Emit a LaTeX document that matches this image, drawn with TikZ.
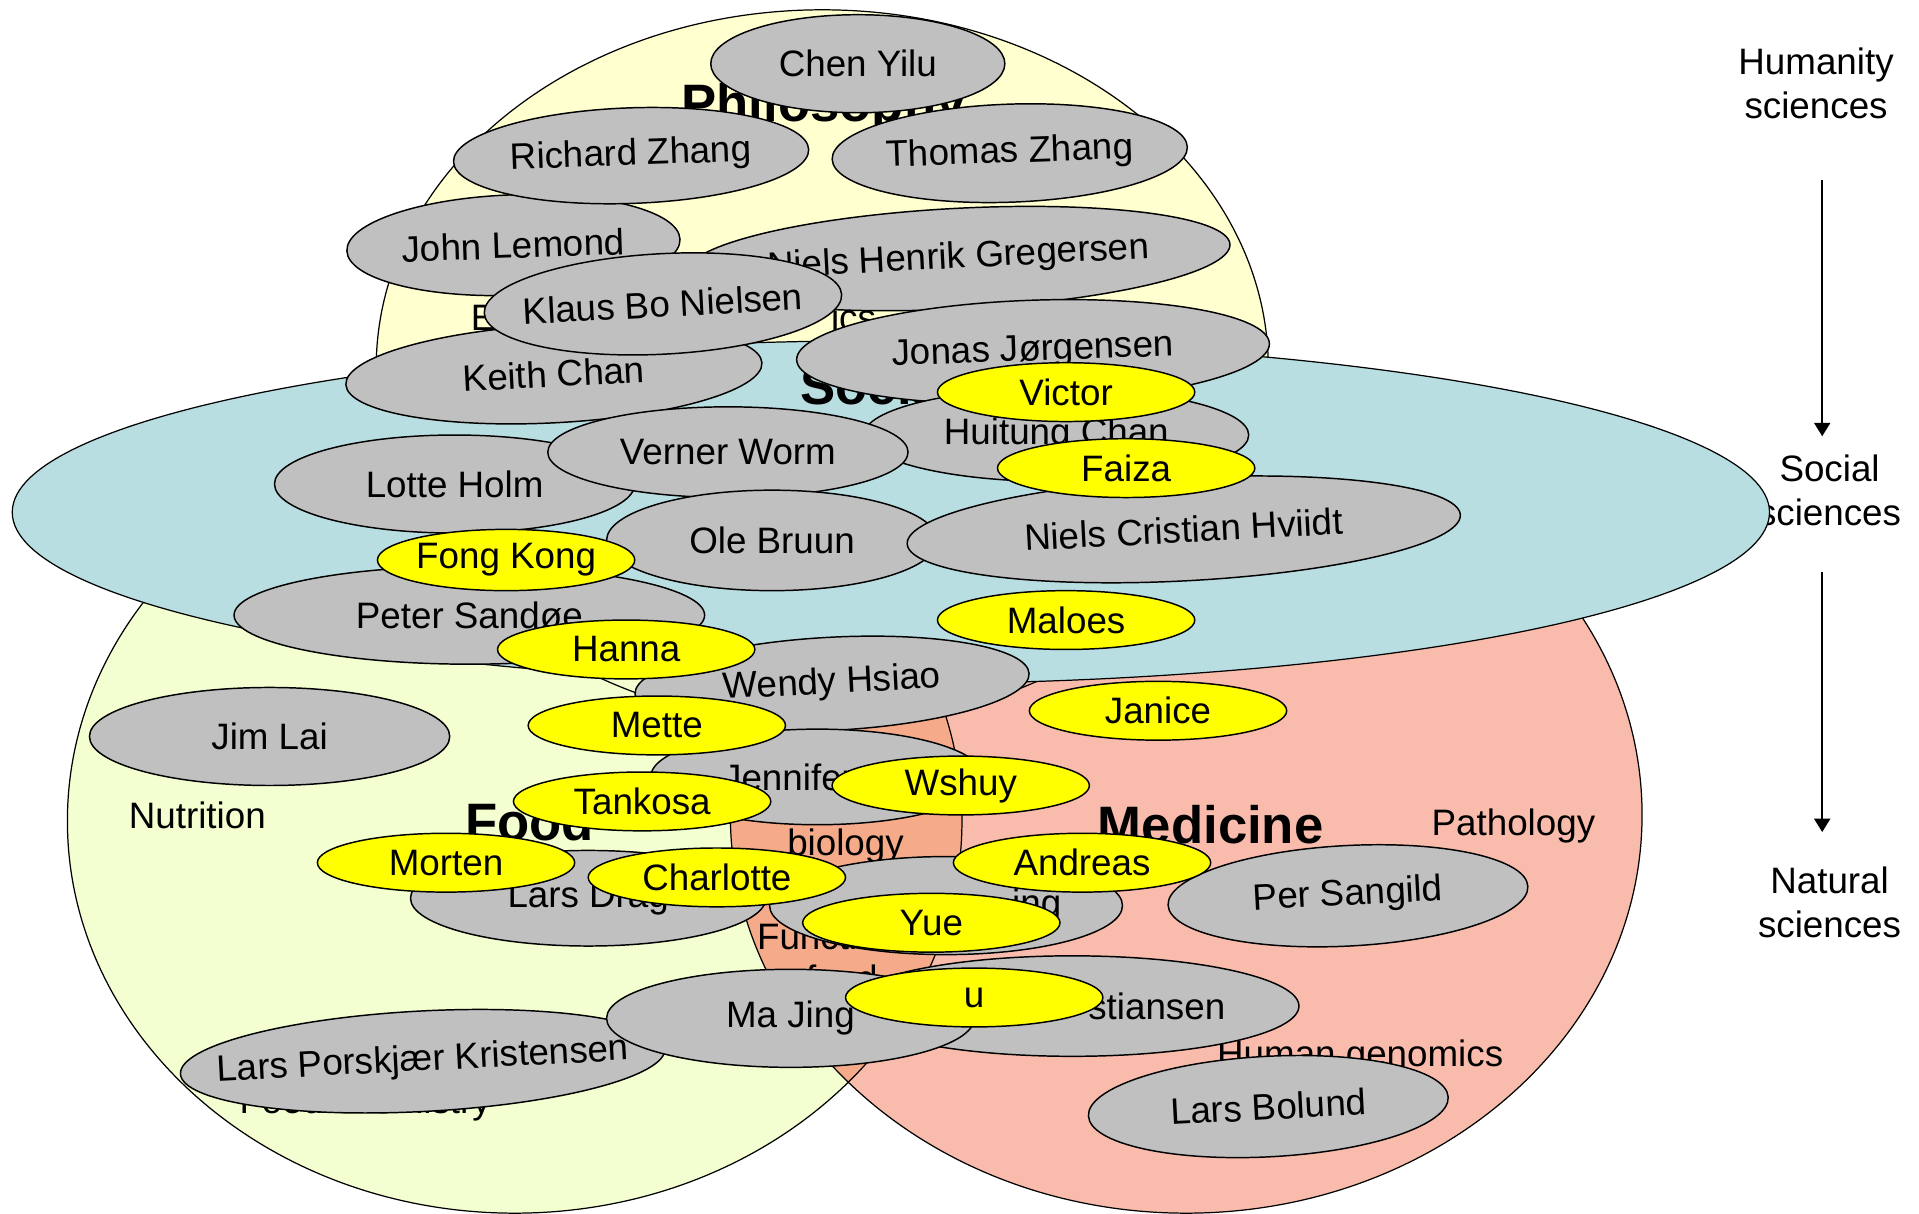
\documentclass[tikz,border=0pt]{standalone}
\usepackage{fontspec}
\setmainfont{Liberation Sans}
\usetikzlibrary{shapes.geometric,arrows.meta}
\definecolor{philfill}{RGB}{255,255,208}
\definecolor{socfill}{RGB}{184,222,226}
\definecolor{foodfill}{RGB}{243,255,208}
\definecolor{medfill}{RGB}{249,188,172}
\definecolor{lensfill}{RGB}{245,170,138}
\definecolor{namegray}{RGB}{192,192,192}
\definecolor{guestyellow}{RGB}{255,255,0}
\begin{document}
\begin{tikzpicture}[x=1pt,y=-1pt,
  region/.style={draw=black, line width=1pt},
  person/.style={ellipse, draw=black, line width=1.2pt, fill=namegray, inner sep=0pt,
    font=\fontsize{30}{36}\selectfont,
    execute at begin node={\hbox to 0pt\bgroup\hss},
    execute at end node={\hss\egroup}},
  guest/.style={person, fill=guestyellow, minimum width=210pt, minimum height=48pt},
  area/.style={font=\fontsize{30}{36}\selectfont, inner sep=0pt},
  field/.style={font=\bfseries\fontsize{43}{50}\selectfont, inner sep=0pt},
  side/.style={font=\fontsize{30}{36}\selectfont, align=center, inner sep=0pt, anchor=north},
  flow/.style={line width=2pt, -{Triangle[width=13pt,length=11pt]}}
]
\fill[white] (0,0) rectangle (1566,990);
\useasboundingbox (0,0) rectangle (1566,990);

% ---- large regions ----
\fill[philfill] (671,300) ellipse [x radius=364, y radius=292];
\fill[foodfill] (420,670) ellipse [x radius=365, y radius=320];
\fill[medfill] (968,665) ellipse [x radius=372, y radius=325];
\begin{scope}
  \clip (420,670) ellipse [x radius=365, y radius=320];
  \fill[lensfill] (968,665) ellipse [x radius=372, y radius=325];
\end{scope}
\draw[region] (671,300) ellipse [x radius=364, y radius=292];
\draw[region] (420,670) ellipse [x radius=365, y radius=320];
\draw[region] (968,665) ellipse [x radius=372, y radius=325];

% ---- right side scale ----
\node[side] (hum) at (1482,39) {Humanity\\sciences};
\node[side] (soc) at (1493,371) {Social\\sciences};
\node[side] (nat) at (1493,707) {Natural\\sciences};
\coordinate (a1s) at (1487,147);
\coordinate (a1e) at (1487,356);
\coordinate (a2s) at (1487,467);
\coordinate (a2e) at (1487,679);
\draw[flow] (a1s) -- (a1e);
\draw[flow] (a2s) -- (a2e);

% ---- social sciences ellipse ----
\draw[region, fill=socfill] (727,418) ellipse [x radius=717, y radius=140];

% ---- region labels ----
\node[field, anchor=base] (philo) at (672,99) {Philosophy};
\node[field, anchor=base west] (social) at (653,330) {Social};
\node[area, anchor=base west] (ephil) at (384,270) {E};
\node[area, anchor=base east] (ics) at (715,270) {ics};
\node[field, anchor=base] (food) at (432,686) {Food};
\node[field, anchor=base] (med) at (988,688) {Medicine};
\node[area, anchor=base] (nutri) at (161,676) {Nutrition};
\node[area, anchor=base] (patho) at (1235,682) {Pathology};
\node[area, anchor=base] (bio) at (690,698) {biology};
\node[area, anchor=north, align=center, font=\fontsize{30}{34}\selectfont] (func) at (687,753) {Functional\\food};
\node[area, anchor=base] (fchem) at (298,909) {Food chemistry};
\node[area, anchor=base] (hgen) at (1110,870) {Human genomics};

% ---- researchers ----
\node[person, minimum width=240pt, minimum height=80pt] (chen) at (700,52) {Chen Yilu};
\node[person, minimum width=272pt, minimum height=82pt, rotate=2] (john) at (419,200) {John Lemond};
\node[person, minimum width=290pt, minimum height=78pt, rotate=2] (richard) at (515,127) {Richard Zhang};
\node[person, minimum width=290pt, minimum height=80pt, rotate=2] (thomas) at (824,125) {Thomas Zhang};
\node[person, minimum width=444pt, minimum height=82pt, rotate=3] (nhg) at (782,211) {Niels Henrik Gregersen};
\node[person, minimum width=340pt, minimum height=80pt, rotate=3] (keith) at (452,305) {Keith Chan};
\node[person, minimum width=292pt, minimum height=82pt, rotate=3] (klaus) at (541,248) {Klaus Bo Nielsen};
\node[person, minimum width=386pt, minimum height=84pt, rotate=2] (jonas) at (843,287) {Jonas Jørgensen};
\node[person, minimum width=314pt, minimum height=76pt] (huitung) at (862,355) {Huitung Chan};
\node[person, minimum width=294pt, minimum height=80pt] (lotte) at (371,395) {Lotte Holm};
\node[person, minimum width=294pt, minimum height=74pt] (verner) at (594,369) {Verner Worm};
\node[person, minimum width=270pt, minimum height=82pt] (ole) at (630,441) {Ole Bruun};
\node[person, minimum width=452pt, minimum height=84pt, rotate=3] (nch) at (966,432) {Niels Cristian Hviidt};
\node[person, minimum width=384pt, minimum height=80pt] (peter) at (383,502) {Peter Sandøe};
\node[person, minimum width=322pt, minimum height=76pt, rotate=3] (wendy) at (679,558) {Wendy Hsiao};
\node[person, minimum width=294pt, minimum height=80pt] (jim) at (220,601) {Jim Lai};
\node[person, minimum width=272pt, minimum height=78pt] (jennifer) at (667,634) {Jennifer\kern47pt};
\node[person, minimum width=290pt, minimum height=78pt] (dragsted) at (480,733) {Lars Drag};
\node[person, minimum width=288pt, minimum height=80pt] (xing) at (772,739) {\kern148pt ing};
\node[person, minimum width=294pt, minimum height=82pt, rotate=3] (per) at (1100,731) {Per Sangild};
\node[person, minimum width=370pt, minimum height=82pt] (stiansen) at (875,821) {\kern138pt stiansen};
\node[person, minimum width=396pt, minimum height=82pt, rotate=3] (lpk) at (345,866) {Lars Porskjær Kristensen};
\node[person, minimum width=300pt, minimum height=80pt] (majing) at (645,831) {Ma Jing};
\node[person, minimum width=294pt, minimum height=82pt, rotate=3] (bolund) at (1035,903) {Lars Bolund};

% ---- guests (yellow) ----
\node[guest] (victor) at (870,320) {Victor};
\node[guest] (faiza) at (919,382) {Faiza};
\node[guest, minimum height=50pt] (fong) at (413,457) {Fong Kong};
\node[guest] (hanna) at (511,530) {Hanna};
\node[guest] (maloes) at (870,506) {Maloes};
\node[guest] (janice) at (945,580) {Janice};
\node[guest] (mette) at (536,592) {Mette};
\node[guest] (tankosa) at (524,654) {Tankosa};
\node[guest] (wshuy) at (784,641) {Wshuy};
\node[guest] (morten) at (364,704) {Morten};
\node[guest] (charlotte) at (585,716) {Charlotte};
\node[guest] (andreas) at (883,704) {Andreas};
\node[guest] (yue) at (760,753) {Yue};
\node[guest] (u) at (795,814) {u};
\end{tikzpicture}
\end{document}
